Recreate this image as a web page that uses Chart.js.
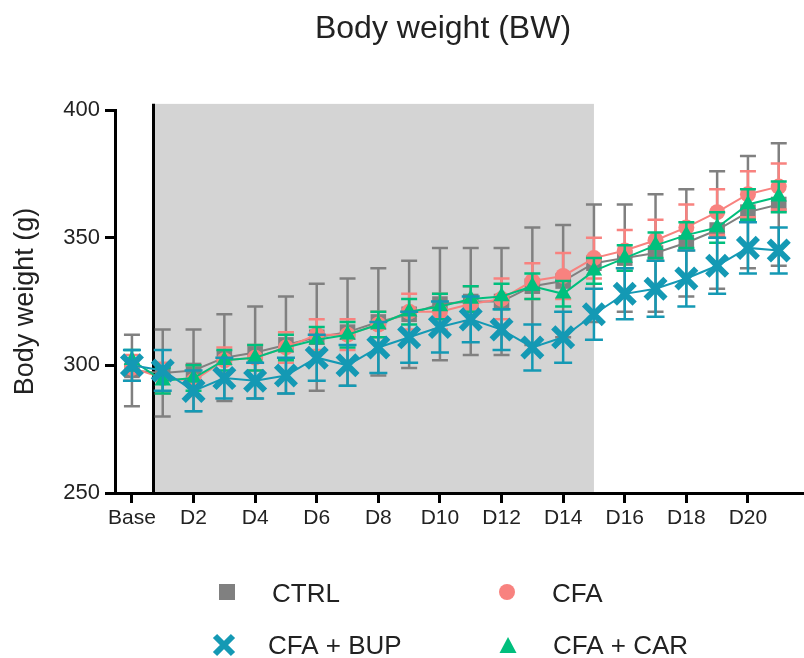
<!DOCTYPE html>
<html>
<head>
<meta charset="utf-8">
<script src="https://cdn.jsdelivr.net/npm/chart.js@4.4.1/dist/chart.umd.min.js"></script>
<style>
html,body{margin:0;padding:0;background:#fff;}
#wrap{width:804px;height:658px;position:relative;}
</style>
</head>
<body>
<div id="wrap"><canvas id="c" width="804" height="658"></canvas></div>
<script>
// ---------- data ----------
const categories = ['Base','D1','D2','D3','D4','D5','D6','D7','D8','D9','D10','D11','D12','D13','D14','D15','D16','D17','D18','D19','D20','D21'];
const tickDays = [0,2,4,6,8,10,12,14,16,18,20];
const tickLabels = ['Base','D2','D4','D6','D8','D10','D12','D14','D16','D18','D20'];
const yTicks = [250,300,350,400];

const ctrlMean = [298,297,298,303,305,308,311,313,317,320,324,325,325,331,333,340,342,344,348,353,360,363];
const ctrlSD   = [14,17,16,17,18,19,21,21,21,21,22,21,21,23,22,23,21,23,21,23,22,24];
const cfaMean  = [299,295,294,302,303,307,312,312,316,321,321,324,326,333,335,342,345,349,354,360,367,370];
const cfaSD    = [5,6,6,5,5,6,6,6,5,7,7,7,8,7,9,8,8,8,9,9,9,9];
const bupMean  = [300,298,290,295,294,296,303,300,307,311,315,318,314,307,311,320,328,330,334,339,346,345];
const bupSD    = [6,8,8,8,7,7,9,8,10,10,10,9,8,9,10,10,10,11,11,11,10,9];
const carMean  = [302,294,295,302,303,307,310,312,316,321,323,326,327,331,328,337,342,347,351,354,363,366];
const carSD    = [4,5,5,4,5,5,5,5,5,5,5,5,5,5,5,5,5,5,5,6,6,6];

const seriesNames = ['CTRL','CFA','CFA + BUP','CFA + CAR'];
const shadeStart = 0.7, shadeEnd = 15, shadeTopValue = 402.4;

// ---------- styles ----------
const FONT = "'Liberation Sans', Arial, Helvetica, sans-serif";
const TXT = '#222';
const C_CTRL = '#808080', C_CFA = '#F8827F', C_BUP = '#1499B4', C_CAR = '#00BF7D';

const toXY = (arr) => arr.map((v, i) => ({x: i, y: v}));

const datasets = [
  {label: seriesNames[0], data: toXY(ctrlMean), errors: ctrlSD, borderColor: C_CTRL, backgroundColor: C_CTRL,
   pointStyle: 'rect', pointRadius: 11, pointBorderWidth: 0, borderWidth: 2, order: 3, capHalf: 8, errWidth: 2.5},
  {label: seriesNames[1], data: toXY(cfaMean), errors: cfaSD, borderColor: C_CFA, backgroundColor: C_CFA,
   pointStyle: 'circle', pointRadius: 8, pointBorderWidth: 0, borderWidth: 2, order: 2, capHalf: 8, errWidth: 2.5},
  {label: seriesNames[2], data: toXY(bupMean), errors: bupSD, borderColor: C_BUP, backgroundColor: C_BUP,
   pointStyle: 'crossRot', pointRadius: 14, pointBorderWidth: 6, borderWidth: 2, order: 0, capHalf: 9, errWidth: 2.5},
  {label: seriesNames[3], data: toXY(carMean), errors: carSD, borderColor: C_CAR, backgroundColor: C_CAR,
   pointStyle: 'triangle', pointRadius: 9.5, pointBorderWidth: 0, borderWidth: 2, order: 1, capHalf: 8, errWidth: 2.5}
];

// ---------- plugins ----------
const shadePlugin = {
  id: 'shade',
  beforeDraw(chart) {
    const {ctx, scales: {x, y}} = chart;
    const x0 = x.getPixelForValue(shadeStart), x1 = x.getPixelForValue(shadeEnd);
    const yt = y.getPixelForValue(shadeTopValue), yb = y.getPixelForValue(250);
    ctx.save();
    ctx.fillStyle = '#D4D4D4';
    ctx.fillRect(x0, yt, x1 - x0, yb - yt);
    ctx.strokeStyle = '#000';
    ctx.lineWidth = 3;
    ctx.beginPath();
    ctx.moveTo(x0, yt);
    ctx.lineTo(x0, yb);
    ctx.stroke();
    ctx.restore();
  }
};

const errorBarPlugin = {
  id: 'errbars',
  beforeDatasetDraw(chart, args) {
    const ds = chart.data.datasets[args.index];
    if (!ds.errors) return;
    const {ctx, scales: {x, y}} = chart;
    ctx.save();
    ctx.strokeStyle = ds.borderColor;
    ctx.lineWidth = ds.errWidth;
    ds.data.forEach((p, i) => {
      const e = ds.errors[i];
      const px = x.getPixelForValue(p.x);
      const yt = y.getPixelForValue(p.y + e), yb = y.getPixelForValue(p.y - e);
      ctx.beginPath();
      ctx.moveTo(px, yt); ctx.lineTo(px, yb);
      ctx.moveTo(px - ds.capHalf, yt); ctx.lineTo(px + ds.capHalf, yt);
      ctx.moveTo(px - ds.capHalf, yb); ctx.lineTo(px + ds.capHalf, yb);
      ctx.stroke();
    });
    ctx.restore();
  }
};

function drawMarker(ctx, style, color, cx, cy) {
  ctx.save();
  ctx.fillStyle = color; ctx.strokeStyle = color;
  if (style === 'rect') {
    ctx.fillRect(cx - 8, cy - 8, 16, 16);
  } else if (style === 'circle') {
    ctx.beginPath(); ctx.arc(cx, cy, 8, 0, Math.PI * 2); ctx.fill();
  } else if (style === 'crossRot') {
    ctx.lineWidth = 6;
    ctx.beginPath();
    ctx.moveTo(cx - 9, cy - 9); ctx.lineTo(cx + 9, cy + 9);
    ctx.moveTo(cx + 9, cy - 9); ctx.lineTo(cx - 9, cy + 9);
    ctx.stroke();
  } else if (style === 'triangle') {
    ctx.beginPath();
    ctx.moveTo(cx, cy - 8); ctx.lineTo(cx + 8.5, cy + 8); ctx.lineTo(cx - 8.5, cy + 8);
    ctx.closePath(); ctx.fill();
  }
  ctx.restore();
}

const textPlugin = {
  id: 'texts',
  afterDraw(chart) {
    const {ctx, chartArea} = chart;
    ctx.save();
    ctx.fillStyle = TXT;
    // title
    ctx.font = '32px ' + FONT;
    ctx.textAlign = 'center';
    ctx.textBaseline = 'alphabetic';
    ctx.fillText('Body weight (BW)', 443, 38);
    // y axis title
    ctx.save();
    ctx.translate(33, (chartArea.top + chartArea.bottom) / 2);
    ctx.rotate(-Math.PI / 2);
    ctx.font = '27px ' + FONT;
    ctx.textAlign = 'center';
    ctx.fillText('Body weight (g)', 0, 0);
    ctx.restore();
    // legend (2 x 2)
    const items = [
      {ds: 0, mx: 227, my: 592, tx: 272, ty: 602},
      {ds: 1, mx: 507, my: 592, tx: 552, ty: 602},
      {ds: 2, mx: 224, my: 645, tx: 268, ty: 654},
      {ds: 3, mx: 508, my: 645, tx: 553, ty: 654}
    ];
    ctx.font = '26px ' + FONT;
    ctx.textAlign = 'left';
    items.forEach(it => {
      const d = chart.data.datasets[it.ds];
      drawMarker(ctx, d.pointStyle, d.borderColor, it.mx, it.my);
      ctx.fillStyle = TXT;
      ctx.fillText(d.label, it.tx, it.ty);
    });
    ctx.restore();
  }
};

// ---------- chart ----------
new Chart(document.getElementById('c'), {
  type: 'line',
  data: {labels: categories, datasets},
  options: {
    responsive: false,
    animation: false,
    devicePixelRatio: 1,
    layout: {autoPadding: false, padding: {top: 110, bottom: 125, left: 0, right: 0}},
    plugins: {legend: {display: false}, tooltip: {enabled: false}, title: {display: false}},
    elements: {line: {tension: 0}},
    scales: {
      x: {
        type: 'linear', min: -0.55, max: 21.82, bounds: 'data', offset: false,
        afterBuildTicks: s => { s.ticks = tickDays.map(v => ({value: v})); },
        afterFit: s => { s.height = 40; },
        ticks: {
          callback: (v, i) => tickLabels[i],
          font: {family: FONT, size: 21}, color: TXT, padding: 3,
          maxRotation: 0, autoSkip: false
        },
        grid: {drawOnChartArea: false, tickLength: 10, tickWidth: 3, tickColor: '#000'},
        border: {display: true, color: '#000', width: 3}
      },
      y: {
        type: 'linear', min: 250, max: 400, bounds: 'data',
        afterBuildTicks: s => { s.ticks = yTicks.map(v => ({value: v})); },
        afterFit: s => { s.width = 115; },
        ticks: {font: {family: FONT, size: 22}, color: TXT, padding: 5},
        grid: {drawOnChartArea: false, tickLength: 10, tickWidth: 3, tickColor: '#000'},
        border: {display: true, color: '#000', width: 3}
      }
    }
  },
  plugins: [shadePlugin, errorBarPlugin, textPlugin]
});
</script>
</body>
</html>
